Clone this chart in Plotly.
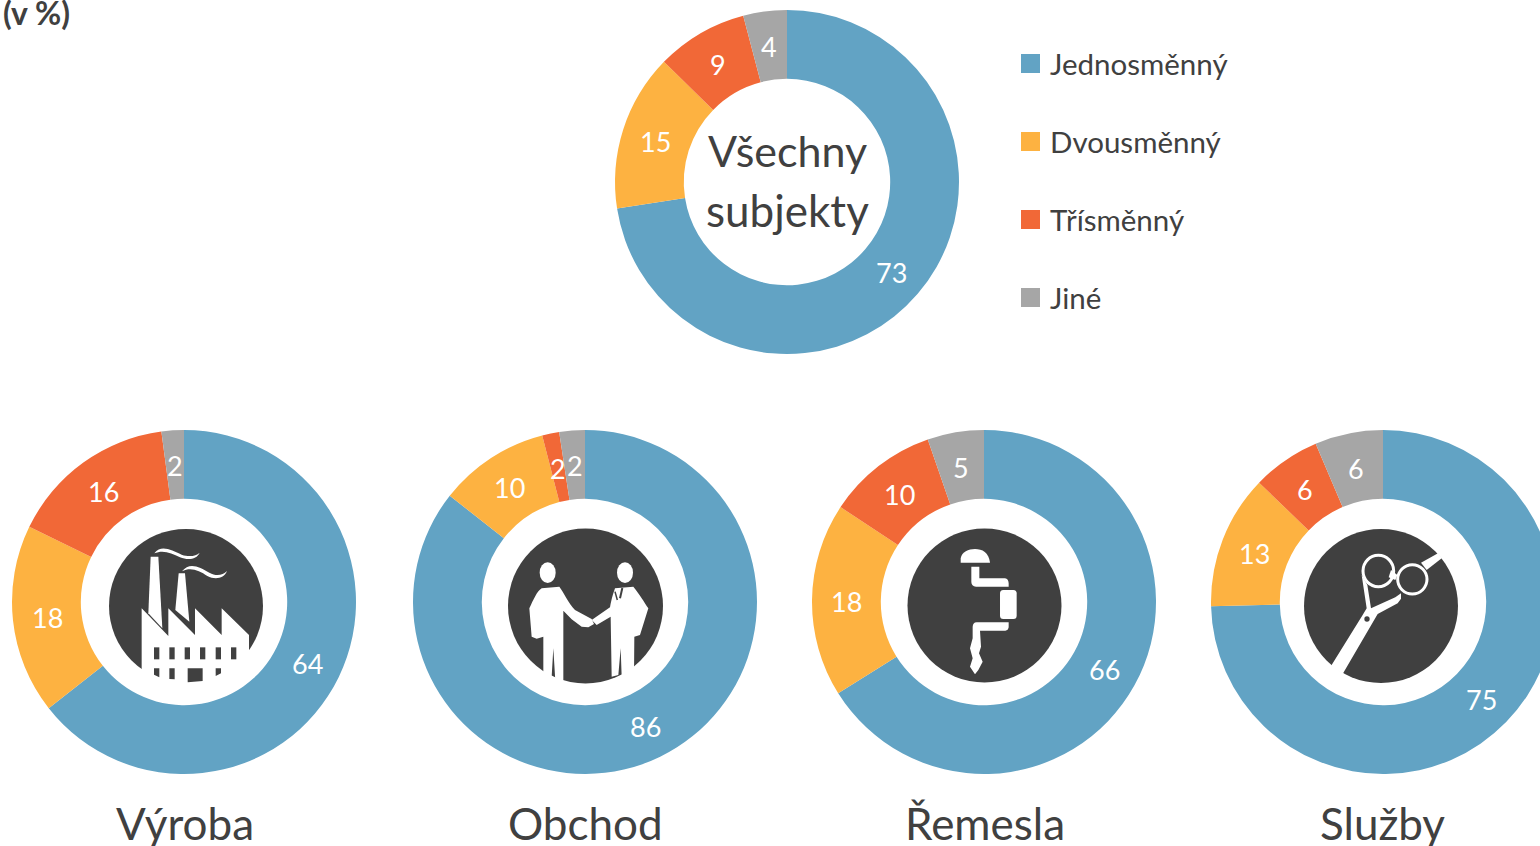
import math
import re
import plotly.graph_objects as go

# ---------- data (read from slice boundaries; labels are the rounded values) ----------
segments = ["Jednosměnný", "Dvousměnný", "Třísměnný", "Jiné"]
colors = ["#62A3C4", "#FDB241", "#F16837", "#A6A6A6"]
vsechny = [72.6, 14.8, 8.6, 4.1]
vyroba = [64.4, 17.8, 15.7, 2.1]
obchod = [85.6, 10.4, 1.6, 2.4]
remesla = [66.1, 18.2, 10.4, 5.3]
sluzby = [74.6, 12.6, 6.4, 6.4]
unit_label = "(v %)"
center_lines = ["Všechny", "subjekty"]
sector_names = ["Výroba", "Obchod", "Řemesla", "Služby"]

FONT = "Lato"
TEXT = "#404040"
W, H = 1560, 846
R = 172
HOLE = 0.6


def X(x):
    return x / W


def Y(y):
    return 1 - y / H


def dom(cx, cy, r=R):
    return dict(x=[X(cx - r), X(cx + r)], y=[Y(cy + r), Y(cy - r)])


annotations = []
shapes = []


def pie(values, cx, cy, name):
    total = sum(values)
    acc = 0.0
    rr = R * (1 + HOLE) / 2
    for v in values:
        ang = 2 * math.pi * (acc + v / 2) / total
        acc += v
        annotations.append(dict(
            xref="paper", yref="paper", x=X(cx + rr * math.sin(ang)),
            y=Y(cy - rr * math.cos(ang) + 1), xanchor="center", yanchor="middle",
            showarrow=False, text=f"{v:.0f}",
            font=dict(family=FONT, size=27, color="white")))
    return go.Pie(
        labels=segments, values=values, name=name, domain=dom(cx, cy), hole=HOLE,
        sort=False, direction="clockwise", rotation=0,
        marker=dict(colors=colors, line=dict(width=0)),
        textinfo="none", showlegend=False, hoverinfo="label+value",
    )


fig = go.Figure([
    pie(vsechny, 787, 182, "Všechny subjekty"),
    pie(vyroba, 184, 602, sector_names[0]),
    pie(obchod, 585, 602, sector_names[1]),
    pie(remesla, 984, 602, sector_names[2]),
    pie(sluzby, 1383, 602, sector_names[3]),
])

DARK = "#404040"


def zpath(d, ox, oy):
    """Path given in 3x zoom coordinates around a crop origin (ox, oy)."""
    out, i = [], 0
    for tok in re.findall(r"[A-Za-z]|-?\d+\.?\d*", d):
        if tok.isalpha():
            out.append(tok)
        else:
            v = float(tok) / 3
            out.append(f"{X(ox + v):.5f}" if i % 2 == 0 else f"{Y(oy + v):.5f}")
            i += 1
    return " ".join(out)


def fill(d, ox, oy, color="white"):
    shapes.append(dict(type="path", xref="paper", yref="paper", layer="above",
                       path=zpath(d, ox, oy), fillcolor=color, line=dict(width=0)))


def stroke(d, ox, oy, width, color="white"):
    shapes.append(dict(type="path", xref="paper", yref="paper", layer="above",
                       path=zpath(d, ox, oy), line=dict(color=color, width=width)))


def oval(cx, cy, rx, ry, ox=0, oy=0, scale=1.0, color=DARK, line=None):
    s = dict(type="circle", xref="paper", yref="paper", layer="above",
             x0=X(ox + (cx - rx) * scale), x1=X(ox + (cx + rx) * scale),
             y0=Y(oy + (cy - ry) * scale), y1=Y(oy + (cy + ry) * scale))
    if line:
        s.update(fillcolor="rgba(0,0,0,0)", line=dict(color=color, width=line))
    else:
        s.update(fillcolor=color, line=dict(width=0))
    shapes.append(s)


def zoval(cx, cy, rx, ry, ox, oy, color="white", line=None):
    oval(cx, cy, rx, ry, ox, oy, 1 / 3, color, line)


# factory icon
ox, oy = 100, 520
oval(186, 606, 77, 77)
fill("M125 265 L205 348 L205 265 L285 345 L285 265 L365 345 L365 265 L447 345 L447 385 L447 470 L420 490 L125 490 Z", ox, oy)
fill("M152 110 L175 110 L187 325 L145 280 Z", ox, oy)
fill("M236 160 L255 160 L268 305 L226 270 Z", ox, oy)
fill("M163 100 C185 72 215 92 245 104 C268 112 288 108 299 98 C290 118 265 122 240 112 C215 100 190 88 163 100 Z", ox, oy)
fill("M246 154 C268 125 298 140 328 158 C350 170 368 165 381 153 C372 176 345 180 322 168 C298 152 272 140 246 154 Z", ox, oy)
for wx in (162, 208, 254, 300, 347, 393):
    fill(f"M{wx} 382 L{wx + 16} 382 L{wx + 16} 418 L{wx} 418 Z", ox, oy, DARK)
fill("M162 445 L178 445 L178 472 L162 464 Z", ox, oy, DARK)
fill("M208 445 L224 445 L224 478 L208 477 Z", ox, oy, DARK)
fill("M263 445 L308 445 L308 483 L263 487 Z", ox, oy, DARK)
fill("M347 445 L363 445 L363 460 L347 468 Z", ox, oy, DARK)

# handshake icon
ox, oy = 500, 520
oval(585.5, 606, 77.5, 77.5)
zoval(143, 158, 24, 31, ox, oy)
zoval(375, 158, 24, 31, ox, oy)
fill("M125 205 L178 200 C190 215 205 250 225 270 L275 297 L282 312 L265 322 L245 320 L215 298 L190 272 L190 490 L167 490 L165 468 L160 385 L155 470 L130 470 L130 350 L110 356 L95 350 L88 265 C100 240 110 215 125 205 Z", ox, oy)
fill("M345 205 L400 200 C420 225 432 245 445 265 L420 345 L403 350 L402 470 L365 490 L365 468 L362 385 L355 465 L335 470 L332 290 L290 315 L275 300 L330 262 C335 235 340 220 345 205 Z", ox, oy)
stroke("M367 204 L360 235", ox, oy, 2, DARK)
stroke("M345 215 L352 240", ox, oy, 1.5, DARK)

# hand tool icon
ox, oy = 900, 520
oval(984.5, 605.5, 77, 77)
fill("M182 128 L182 115 C186 95 205 87 225 87 C247 87 266 97 270 128 Z", ox, oy)
fill("M214 140 L238 140 L238 175 L315 175 C322 176 326 182 326 190 L326 200 L228 200 C219 200 214 194 214 186 Z", ox, oy)
fill("M310 210 L340 210 C347 210 350 214 350 220 L350 287 C350 293 347 297 340 297 L310 297 C303 297 300 293 300 287 L300 220 C300 214 303 210 310 210 Z", ox, oy)
fill("M326 307 L326 322 C325 328 322 332 316 332 L240 332 L243 380 L237 400 L248 425 L235 450 L225 463 L210 440 L218 415 L210 385 L218 355 L218 320 C219 312 222 307 230 307 Z", ox, oy)

# scissors icon
ox, oy = 1296, 520
oval(1381, 606, 77, 77)
zoval(247, 153, 46, 47, ox, oy, "white", 3)
zoval(349, 178, 44, 44, ox, oy, "white", 3)
fill("M375 128 L426 100 L438 114 L392 150 Z", ox, oy)
fill("M285 150 L304 165 L298 180 L278 172 Z", ox, oy)
fill("M197 165 L214 195 L225 265 L298 232 L315 220 L315 236 L305 250 L245 282 L140 462 L105 438 L200 285 L212 265 Z", ox, oy)
zoval(213, 297, 8, 8, ox, oy, DARK)

# legend
for i, (seg, col) in enumerate(zip(segments, colors)):
    cy = 64 + 78 * i
    shapes.append(dict(type="rect", xref="paper", yref="paper", layer="above",
                       x0=X(1021), x1=X(1040), y0=Y(cy - 10), y1=Y(cy + 9),
                       fillcolor=col, line=dict(width=0)))
    annotations.append(dict(xref="paper", yref="paper", x=X(1048), y=Y(cy - 0.5),
                            xanchor="left", yanchor="middle", showarrow=False, text=seg,
                            font=dict(family=FONT, size=29.5, color=TEXT)))


def label(text, x, y, size, bold=False, anchor="center"):
    annotations.append(dict(xref="paper", yref="paper", x=X(x), y=Y(y), xanchor=anchor,
                            yanchor="middle", showarrow=False, text=f"<b>{text}</b>" if bold else text,
                            align="center", font=dict(family=FONT, size=size, color=TEXT)))


label(unit_label, 1, 12, 32, bold=True, anchor="left")
label(center_lines[0], 787, 151, 43)
label(center_lines[1], 787, 210, 44)
for name, x in zip(sector_names, (185, 585, 985, 1382)):
    label(name, x, 823, 44)

fig.update_layout(
    width=W, height=H, autosize=False, margin=dict(l=0, r=0, t=0, b=0),
    paper_bgcolor="white", plot_bgcolor="white", showlegend=False,
    shapes=shapes, annotations=annotations, font=dict(family=FONT, color=TEXT),
)

fig.write_html(
    "out.html",
    config={"displayModeBar": False},
    post_script="document.body.style.margin='0';document.documentElement.style.overflow='hidden';document.body.style.overflow='hidden';",
)
